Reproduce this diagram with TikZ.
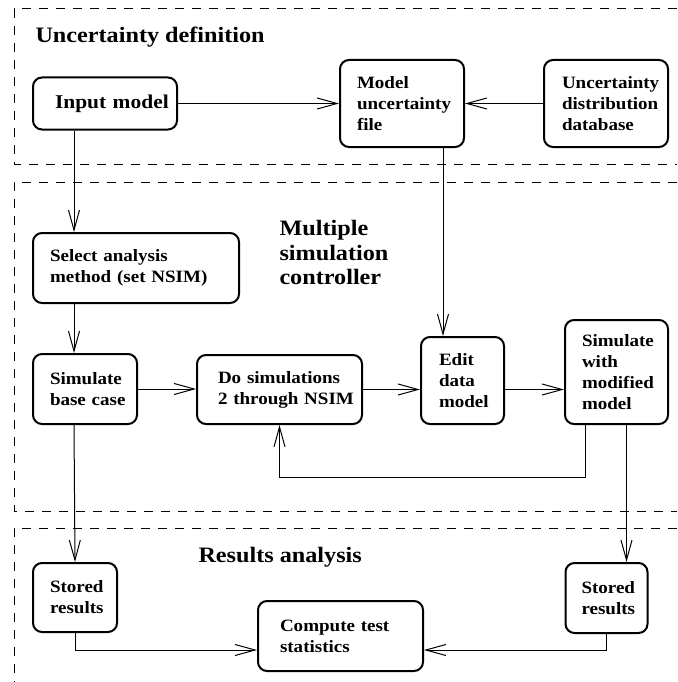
\documentclass[tikz,border=0pt]{standalone}
\usepackage{fontspec}
\setmainfont{Liberation Serif}[FakeStretch=1.1]
\usetikzlibrary{arrows.meta}
\hyphenpenalty=10000
\exhyphenpenalty=10000

\begin{document}
\begin{tikzpicture}[x=1pt, y=-1pt, line width=1pt,
    >={Straight Barb[length=20pt, width=11pt]},
    blk/.style={draw, line width=2pt, rounded corners=9pt, align=left,
        inner xsep=17pt, inner ysep=0pt,
        font=\bfseries\fontsize{17.3}{21}\selectfont},
    ttl/.style={anchor=west, inner sep=0pt, align=left,
        font=\bfseries\fontsize{22}{24.5}\selectfont},
    frame/.style={line width=1pt, dash pattern=on 9pt off 8pt}]

    \useasboundingbox (0, 0) rectangle (677, 682);

    \draw [frame] (677, 9) -- (14, 9) -- (14, 164) -- (677, 164);
    \draw [frame] (677, 182) -- (14, 182) -- (14, 511) -- (677, 511);
    \draw [frame] (677, 528) -- (14, 528) -- (14, 682);

    \node [ttl] (ud) at (35, 37) {Uncertainty definition};
    \node [ttl] (msc) at (279, 252.5) {Multiple\\simulation\\controller};
    \node [ttl] (ra) at (198, 557) {Results analysis};

    \node [blk, text width=100pt, inner xsep=22pt, minimum height=52pt,
        font=\bfseries\fontsize{19.5}{22}\selectfont] (inp) at (105, 103.5) {Input~model};
    \node [blk, text width=90pt, minimum height=87pt] (muf) at (402, 103.5) {Model\\uncertainty\\file};
    \node [blk, text width=88pt, inner xsep=18pt, minimum height=87pt] (udd) at (606, 103.5) {Uncertainty\\distribution\\database};
    \node [blk, text width=172pt, minimum height=70pt] (sel) at (136, 268) {Select~analysis\\method~(set~NSIM)};
    \node [blk, text width=70pt, minimum height=70pt] (base) at (85, 389) {Simulate\\base~case};
    \node [blk, text width=123pt, inner xsep=21pt, minimum height=69pt] (dosim) at (279.5, 389.5) {Do~simulations\\2~through~NSIM};
    \node [blk, text width=47pt, inner xsep=18pt, minimum height=87pt] (edit) at (462.5, 380.5) {Edit\\data\\model};
    \node [blk, text width=69pt, minimum height=104pt] (simmod) at (616.5, 372) {Simulate\\with\\modified\\model};
    \node [blk, text width=50pt, minimum height=69pt] (stl) at (75, 597.5) {Stored\\results};
    \node [blk, text width=50pt, inner xsep=16pt, minimum height=70pt] (str) at (606.5, 598) {Stored\\results};
    \node [blk, text width=121pt, inner xsep=22pt, minimum height=70pt] (comp) at (340.5, 636) {Compute~test\\statistics};

    \draw [->] (inp) -- (muf);
    \draw [->] (udd) -- (muf);
    \draw [->] ([xshift=42pt]inp.south west) -- ([xshift=42pt]sel.north west);
    \draw [->] ([xshift=42pt]sel.south west) -- ([xshift=42pt]base.north west);
    \draw [->] ([xshift=42pt]base.south west) -- (stl.north);
    \draw [->] (base.east) -- (base.east -| dosim.west);
    \draw [->] (dosim.east) -- (dosim.east -| edit.west);
    \draw [->] (dosim.east -| edit.east) -- (dosim.east -| simmod.west);
    \draw [->] ([xshift=41pt]muf.south) -- ([xshift=-19.5pt]edit.north);
    \draw [->] ([xshift=10pt]simmod.south) -- ([xshift=20pt]str.north);
    \draw [->] ([xshift=-31.5pt]simmod.south) -- ++(0, 52) -| (dosim.south);
    \draw [->] (stl.south) |- ([yshift=-14pt]comp.west);
    \draw [->] (str.south) |- ([yshift=-14pt]comp.east);

\end{tikzpicture}
\end{document}
